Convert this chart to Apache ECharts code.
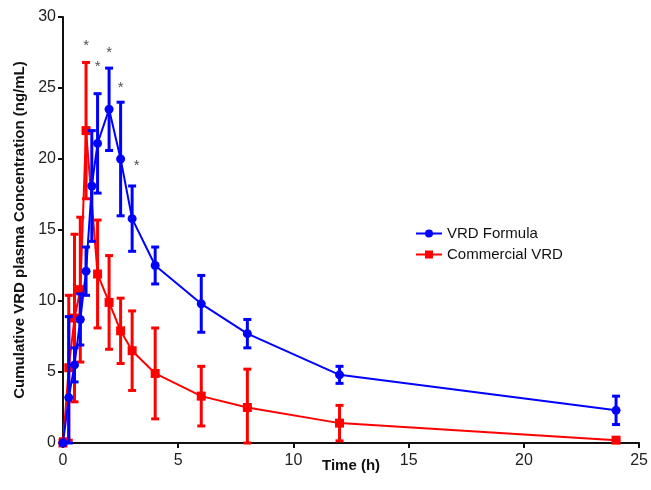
<!DOCTYPE html>
<html>
<head>
<meta charset="utf-8">
<title>VRD plasma concentration</title>
<script src="https://cdn.jsdelivr.net/npm/echarts@6/dist/echarts.min.js"></script>
<style>
  html, body { margin: 0; padding: 0; background: #fff; }
  #main { width: 651px; height: 490px; }
</style>
</head>
<body>
<div id="main"></div>
<script type="text/javascript">
// time points (h)
var formulaTime = [0, 0.25, 0.5, 0.75, 1, 1.25, 1.5, 2, 2.5, 3, 4, 6, 8, 12, 24];
var formulaMean = [0, 3.2, 5.5, 8.7, 12.1, 18.1, 21.1, 23.5, 20.0, 15.8, 12.5, 9.8, 7.7, 4.8, 2.3];
var formulaSd   = [0, 5.7, 1.2, 1.8, 1.7, 3.9, 3.5, 2.9, 4.0, 2.3, 1.3, 2.0, 1.0, 0.6, 1.0];

var commTime = [0, 0.25, 0.5, 0.75, 1, 1.5, 2, 2.5, 3, 4, 6, 8, 12, 24];
var commMean = [0, 5.3, 8.8, 10.8, 22.0, 11.9, 9.9, 7.9, 6.5, 4.9, 3.3, 2.5, 1.4, 0.2];
var commSd   = [0.3, 5.1, 5.9, 5.1, 4.8, 3.8, 3.3, 2.3, 2.8, 3.2, 2.1, 2.7, 1.25, 0];

// significance asterisks
var starTime = [1, 1.5, 2, 2.5, 3.2];
var starY    = [28, 26.5, 27.5, 25, 19.5];

var xTicks = [0, 5, 10, 15, 20, 25];
var yTicks = [0, 5, 10, 15, 20, 25, 30];

function pts(t, m) {
  var out = [];
  for (var i = 0; i < t.length; i++) out.push([t[i], m[i]]);
  return out;
}
function bars(t, m, s) {
  var out = [];
  for (var i = 0; i < t.length; i++) {
    out.push([t[i], Math.max(0, m[i] - s[i]), m[i] + s[i]]);
  }
  return out;
}
function errRender(color) {
  return function (params, api) {
    var x = api.value(0);
    var lo = api.coord([x, api.value(1)]);
    var hi = api.coord([x, api.value(2)]);
    var cap = 4;
    var st = { stroke: color, lineWidth: 3 };
    return {
      type: 'group',
      children: [
        { type: 'line', shape: { x1: lo[0], y1: lo[1], x2: hi[0], y2: hi[1] }, style: st },
        { type: 'line', shape: { x1: hi[0] - cap, y1: hi[1], x2: hi[0] + cap, y2: hi[1] }, style: st },
        { type: 'line', shape: { x1: lo[0] - cap, y1: lo[1], x2: lo[0] + cap, y2: lo[1] }, style: st }
      ]
    };
  };
}

var myChart = echarts.init(document.getElementById('main'));
var fontFam = 'Liberation Sans, Arial, sans-serif';

var option = {
  animation: false,
  textStyle: { fontFamily: fontFam },
  grid: { left: 63, right: 8, top: 17, bottom: 47 },
  legend: {
    left: 410, top: 221,
    orient: 'vertical',
    itemGap: 6,
    itemWidth: 26,
    itemHeight: 10,
    textStyle: { fontSize: 15, color: '#111', fontFamily: fontFam },
    data: ['VRD Formula', 'Commercial VRD']
  },
  xAxis: {
    type: 'value',
    min: 0, max: 25, interval: 5,
    name: 'Time (h)',
    nameLocation: 'middle',
    nameGap: 15,
    nameMoveOverlap: false,
    nameTextStyle: { fontSize: 15, fontWeight: 'bold', color: '#111', verticalAlign: 'top' },
    axisLine: { lineStyle: { color: '#111', width: 2 } },
    axisTick: { show: true, length: 5, lineStyle: { color: '#111', width: 2 } },
    axisLabel: { fontSize: 16, color: '#222', margin: 10,
      formatter: function (v) { return xTicks.indexOf(v) >= 0 ? v : ''; } },
    splitLine: { show: false }
  },
  yAxis: {
    type: 'value',
    min: 0, max: 30, interval: 5,
    name: 'Cumulative VRD plasma Concentration (ng/mL)',
    nameLocation: 'middle',
    nameGap: 36,
    nameMoveOverlap: false,
    nameTextStyle: { fontSize: 15, fontWeight: 'bold', color: '#111' },
    axisLine: { show: true, lineStyle: { color: '#111', width: 2 } },
    axisTick: { show: true, length: 5, lineStyle: { color: '#111', width: 2 } },
    axisLabel: { fontSize: 16, color: '#222', margin: 7,
      formatter: function (v) { return yTicks.indexOf(v) >= 0 ? v : ''; } },
    splitLine: { show: false }
  },
  series: [
    {
      name: 'Commercial VRD',
      type: 'line',
      data: pts(commTime, commMean),
      symbol: 'rect',
      symbolSize: 9,
      color: '#ff0000',
      lineStyle: { width: 2, color: '#ff0000' },
      itemStyle: { color: '#ff0000' },
      z: 3
    },
    {
      name: 'Commercial VRD err',
      type: 'custom',
      renderItem: errRender('#ff0000'),
      data: bars(commTime, commMean, commSd),
      encode: { x: 0, y: [1, 2] },
      z: 3
    },
    {
      name: 'VRD Formula',
      type: 'line',
      data: pts(formulaTime, formulaMean),
      symbol: 'circle',
      symbolSize: 9,
      color: '#0000ff',
      lineStyle: { width: 2, color: '#0000ff' },
      itemStyle: { color: '#0000ff' },
      z: 4
    },
    {
      name: 'VRD Formula err',
      type: 'custom',
      renderItem: errRender('#0000ff'),
      data: bars(formulaTime, formulaMean, formulaSd),
      encode: { x: 0, y: [1, 2] },
      z: 4
    },
    {
      name: 'stars',
      type: 'scatter',
      data: pts(starTime, starY),
      symbolSize: 1,
      itemStyle: { color: 'rgba(0,0,0,0)' },
      label: { show: true, position: 'inside', formatter: '*', fontSize: 15, color: '#222' },
      silent: true
    }
  ]
};
myChart.setOption(option);
</script>
</body>
</html>
